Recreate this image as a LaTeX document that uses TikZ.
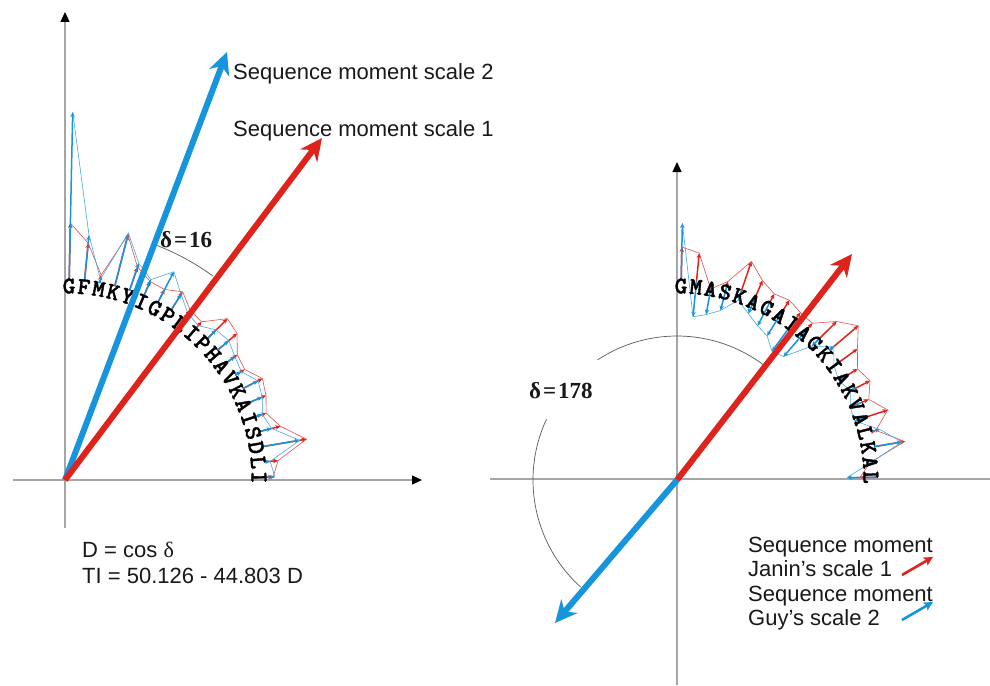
\documentclass[tikz,border=0pt]{standalone}
\usepackage{fontspec}
\setmainfont{Liberation Sans}
\newfontfamily\dfont{Liberation Serif}
\newfontfamily\seqfont{lmmonolt10-bold.otf}[FakeBold=1.6]
\usetikzlibrary{arrows.meta,calc}
\definecolor{myred}{RGB}{222,35,28}
\definecolor{myblue}{RGB}{22,148,220}
\tikzset{
  axisarrow/.style={draw=gray!70, line width=1.2pt, -{Triangle[length=10pt,width=9pt,color=black]}},
  axisplain/.style={draw=gray!70, line width=1.2pt},
  anglearc/.style={draw=black!65, line width=0.7pt},
  bigred/.style={draw=myred, line width=6pt, -{Stealth[length=22pt,width=21pt,inset=7pt]}},
  bigblue/.style={draw=myblue, line width=6pt, -{Stealth[length=22pt,width=21pt,inset=7pt]}},
  redvec/.style={draw=myred, line width=1.5pt, -{Stealth[length=5pt,width=4.5pt]}},
  bluevec/.style={draw=myblue, line width=1.5pt, -{Stealth[length=5pt,width=4.5pt]}},
  redthin/.style={draw=myred!80, line width=0.6pt},
  bluethin/.style={draw=myblue!80, line width=0.6pt},
  legred/.style={draw=myred, line width=2.6pt, -{Stealth[length=9pt,width=9pt,inset=2pt]}},
  legblue/.style={draw=myblue, line width=2.6pt, -{Stealth[length=9pt,width=9pt,inset=2pt]}},
  lbl/.style={font=\fontsize{22}{26}\selectfont, inner sep=0pt, text=black!90},
  dlbl/.style={font={\dfont\bfseries\fontsize{23}{26}\selectfont}, inner sep=0pt, text=black!90},
  seqletter/.style={font={\seqfont\fontsize{24}{26}\selectfont}, inner sep=0pt, text=black}
}
\begin{document}
\begin{tikzpicture}[x=1pt,y=1pt]
\useasboundingbox[fill=white] (0,-685) rectangle (990,0);

% origins
\coordinate (O1) at (65,-480);
\coordinate (O2) at (677,-480);

% axes, left
\coordinate (L1b) at (65,-528);
\coordinate (L1t) at (65,-12);
\coordinate (L1l) at (13,-480);
\coordinate (L1r) at (422,-480);
\draw[axisarrow] (L1b) -- (L1t);
\draw[axisarrow] (L1l) -- (L1r);
% axes, right
\coordinate (R1b) at (677,-685);
\coordinate (R1t) at (677,-162);
\coordinate (R1l) at (490,-479);
\coordinate (R1r) at (990,-479);
\draw[axisarrow] (R1b) -- (R1t);
\draw[axisplain] (R1l) -- (R1r);

% angle arcs
\draw[anglearc] ($(O1)+(54:252)$) arc[start angle=54, end angle=68.5, radius=252];
\draw[anglearc] ($(O2)+(53:144)$) arc[start angle=53, end angle=123.5, radius=144];
\draw[anglearc] ($(O2)+(155:144)$) arc[start angle=155, end angle=228, radius=144];

% left residue vectors
\foreach \rr/\bb [count=\i] in {257/368, 238/246, 208/204, 253/255, 225/229, 216/218, 215/235, 222/219,
  211/207, 209/204, 229/213, 226/215, 213/210, 211/207, 222/217, 218/214, 212/208, 222/213,
  245/238, 214/206, 208/210} {
  \pgfmathsetmacro\th{88.8-4.4*(\i-1)}
  \coordinate (LB\i) at ($(O1)+(\th:200)$);
  \coordinate (LR\i) at ($(O1)+(\th:\rr)$);
  \coordinate (LU\i) at ($(O1)+(\th:\bb)$);
  \draw[redvec] (LB\i) -- (LR\i);
  \draw[bluevec] (LB\i) -- (LU\i);
}
\draw[redthin] (LR1) \foreach \i in {2,...,21}{ -- (LR\i)};
\draw[bluethin] (LU1) \foreach \i in {2,...,21}{ -- (LU\i)};

% right residue vectors
\foreach \rr/\bb [count=\i] in {233/257, 228/164, 194/168, 205/175, 231/190, 217/181, 210/174, 212/170,
  208/160, 207/163, 225/190, 238/206, 223/194, 212/190, 217/195, 208/188, 222/187, 205/209,
  231/228, 194/195, 183/170} {
  \pgfmathsetmacro\th{88.8-4.4*(\i-1)}
  \coordinate (RB\i) at ($(O2)+(\th:200)$);
  \coordinate (RR\i) at ($(O2)+(\th:\rr)$);
  \coordinate (RU\i) at ($(O2)+(\th:\bb)$);
  \draw[redvec] (RB\i) -- (RR\i);
  \draw[bluevec] (RB\i) -- (RU\i);
}
\draw[redthin] (RR1) \foreach \i in {2,...,21}{ -- (RR\i)};
\draw[bluethin] (RU1) \foreach \i in {2,...,21}{ -- (RU\i)};

% sequence letters
\foreach \ch [count=\i] in {G,F,M,K,Y,I,G,P,L,I,P,H,A,V,K,A,I,S,D,L,I} {
  \pgfmathsetmacro\th{88.8-4.4*(\i-1)}
  \node[seqletter, rotate=\th-90] (SL\i) at ($(O1)+(\th:194)$) {\ch};
}
\foreach \ch [count=\i] in {G,M,A,S,K,A,G,A,I,A,G,K,I,A,K,V,A,L,K,A,L} {
  \pgfmathsetmacro\th{88.8-4.4*(\i-1)}
  \node[seqletter, rotate=\th-90] (SR\i) at ($(O2)+(\th:194)$) {\ch};
}

% main moment arrows
\coordinate (TB1) at (227,-52);
\coordinate (TR1) at (322,-138);
\coordinate (TR2) at (852,-254);
\coordinate (TB2) at (555,-623);
\draw[bigblue] (O1) -- (TB1);
\draw[bigred] (O1) -- (TR1);
\draw[bigred] (O2) -- (TR2);
\draw[bigblue] (O2) -- (TB2);

% labels
\node[lbl, anchor=base west] (s2) at (233,-80) {Sequence moment scale 2};
\node[lbl, anchor=base west] (s1) at (233,-136) {Sequence moment scale 1};
\node[dlbl, anchor=base west] (d16) at (160,-247) {δ{\kern2pt}={\kern2pt}16};
\node[dlbl, anchor=base west] (d178) at (529,-398) {δ{\kern2pt}={\kern2pt}178};
\node[lbl, anchor=base west] (eq1) at (82,-557) {D = cos {\dfont δ}};
\node[lbl, anchor=base west] (eq2) at (82,-583) {TI = 50.126 - 44.803 D};

% legend
\node[lbl, anchor=base west] (lg1) at (748,-552) {Sequence moment};
\node[lbl, anchor=base west] (lg2) at (748,-576) {Janin’s scale 1};
\node[lbl, anchor=base west] (lg3) at (748,-601) {Sequence moment};
\node[lbl, anchor=base west] (lg4) at (748,-625) {Guy’s scale 2};
\coordinate (la1) at (902,-575);
\coordinate (la2) at (933,-557);
\coordinate (lb1) at (902,-620);
\coordinate (lb2) at (933,-602);
\draw[legred] (la1) -- (la2);
\draw[legblue] (lb1) -- (lb2);
\end{tikzpicture}
\end{document}
